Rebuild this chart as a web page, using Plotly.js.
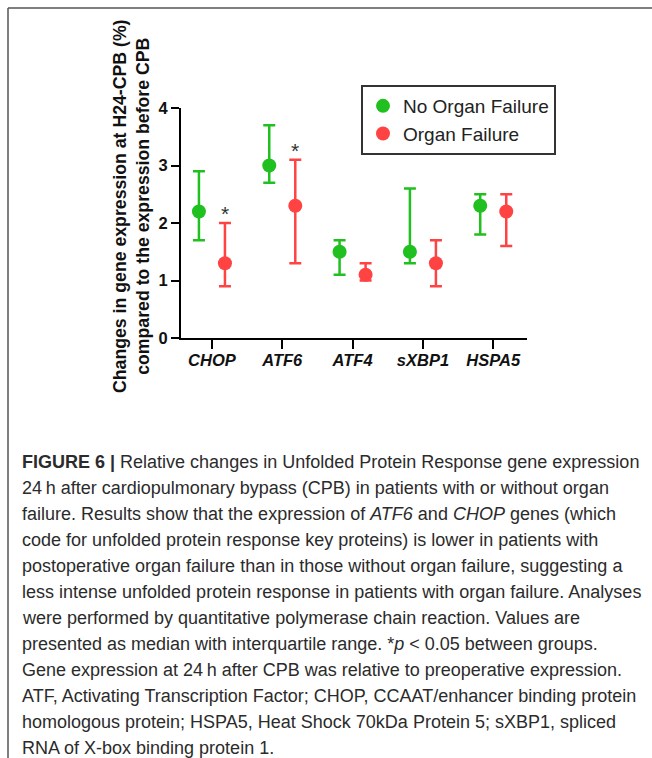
<!DOCTYPE html>
<html>
<head>
<meta charset="utf-8">
<script src="https://cdn.plot.ly/plotly-3.0.1.min.js"></script>
<style>
html,body{margin:0;padding:0;background:#fff;}
#chart{width:652px;height:758px;}
</style>
</head>
<body>
<div id="chart"></div>
<script>
// ---- data ----
const genes = ['CHOP', 'ATF6', 'ATF4', 'sXBP1', 'HSPA5'];
const noOFMedian = [2.2, 3.0, 1.5, 1.5, 2.3];
const noOFLow    = [1.7, 2.7, 1.1, 1.3, 1.8];
const noOFHigh   = [2.9, 3.7, 1.7, 2.6, 2.5];
const ofMedian   = [1.3, 2.3, 1.1, 1.3, 2.2];
const ofLow      = [0.9, 1.3, 1.0, 0.9, 1.6];
const ofHigh     = [2.0, 3.1, 1.3, 1.7, 2.5];
const significant = ['CHOP', 'ATF6'];
const yTicks = [0, 1, 2, 3, 4];
const seriesNames = ['No Organ Failure', 'Organ Failure'];
const yTitle = 'Changes in gene expression at H24-CPB (%)<br>compared to the expression before CPB';

const captionLines = [
  '<b>FIGURE 6 |</b> Relative changes in Unfolded Protein Response gene expression',
  '24\u2009h after cardiopulmonary bypass (CPB) in patients with or without organ',
  'failure. Results show that the expression of <i>ATF6</i> and <i>CHOP</i> genes (which',
  'code for unfolded protein response key proteins) is lower in patients with',
  'postoperative organ failure than in those without organ failure, suggesting a',
  'less intense unfolded protein response in patients with organ failure. Analyses',
  'were performed by quantitative polymerase chain reaction. Values are',
  'presented as median with interquartile range. *<i>p</i> &lt; 0.05 between groups.',
  'Gene expression at 24\u2009h after CPB was relative to preoperative expression.',
  'ATF, Activating Transcription Factor; CHOP, CCAAT/enhancer binding protein',
  'homologous protein; HSPA5, Heat Shock 70kDa Protein 5; sXBP1, spliced',
  'RNA of X-box binding protein 1.'
];

// ---- layout geometry (pixels) ----
const W = 652, H = 758;
const M = {l: 181, r: 125, t: 108, b: 420};
const pw = W - M.l - M.r, ph = H - M.t - M.b;
const px = x => (x - M.l) / pw;
const py = y => (H - M.b - y) / ph;

const FONT = 'Liberation Sans, Arial, sans-serif';
const GREEN = '#1fc01f', RED = '#ff4343';
const diff = (a, b) => a.map((v, i) => v - b[i]);

const traces = [
  {
    type: 'scatter', mode: 'markers', name: seriesNames[0],
    x: genes, y: noOFMedian, legendgroup: 'a',
    marker: {color: GREEN, size: 14},
    error_y: {type: 'data', symmetric: false,
      array: diff(noOFHigh, noOFMedian), arrayminus: diff(noOFMedian, noOFLow),
      color: GREEN, thickness: 2.5, width: 6},
    cliponaxis: false
  },
  {
    type: 'scatter', mode: 'markers', name: seriesNames[1],
    x: genes, y: ofMedian, legendgroup: 'b',
    marker: {color: RED, size: 14},
    error_y: {type: 'data', symmetric: false,
      array: diff(ofHigh, ofMedian), arrayminus: diff(ofMedian, ofLow),
      color: RED, thickness: 2.5, width: 6},
    cliponaxis: false
  }
];

const annotations = [];
significant.forEach(g => {
  const i = genes.indexOf(g);
  annotations.push({
    x: g, y: ofHigh[i], xref: 'x', yref: 'y',
    text: '*', showarrow: false, xshift: 13, yshift: -4,
    xanchor: 'center', yanchor: 'bottom',
    font: {family: FONT, size: 21, color: '#333'}
  });
});
// y-axis title (two lines, rotated)
annotations.push({
  x: px(131), y: py(206), xref: 'paper', yref: 'paper',
  text: yTitle, showarrow: false, textangle: -90,
  xanchor: 'center', yanchor: 'middle', align: 'center',
  font: {family: FONT, size: 17.7, color: '#111', weight: 'bold'}
});
captionLines.forEach((t, k) => {
  annotations.push({
    x: px(20), y: py(462 + k * 26.0), xref: 'paper', yref: 'paper',
    text: t, showarrow: false, xanchor: 'left', yanchor: 'middle',
    font: {family: FONT, size: 18, color: '#2b2b2b'}
  });
});

const layout = {
  width: W, height: H,
  margin: M,
  paper_bgcolor: '#fff', plot_bgcolor: '#fff',
  showlegend: true,
  scattermode: 'group', scattergap: 0.26,
  legend: {
    x: px(361), y: py(85), xanchor: 'left', yanchor: 'top',
    bgcolor: '#fff', bordercolor: '#333', borderwidth: 2,
    font: {family: FONT, size: 19, color: '#222'},
    traceorder: 'grouped', tracegroupgap: 0
  },
  xaxis: {
    type: 'category', range: [-0.44, 4.48],
    showline: true, linecolor: '#000', linewidth: 2,
    ticks: 'outside', ticklen: 9, tickwidth: 2, tickcolor: '#000',
    ticklabelstandoff: -3,
    showgrid: false, zeroline: false,
    tickfont: {family: FONT, size: 16.5, color: '#111', weight: 'bold', style: 'italic'}
  },
  yaxis: {
    range: [0, 4], tickvals: yTicks,
    showline: true, linecolor: '#000', linewidth: 2,
    ticks: 'outside', ticklen: 8, tickwidth: 2, tickcolor: '#000',
    showgrid: false, zeroline: false,
    tickfont: {family: FONT, size: 16.5, color: '#111', weight: 'bold'}
  },
  annotations: annotations,
  shapes: [
    {type: 'line', xref: 'paper', yref: 'paper', x0: px(8), x1: px(652), y0: py(8), y1: py(8),
     line: {color: '#555', width: 1.5}},
    {type: 'line', xref: 'paper', yref: 'paper', x0: px(8), x1: px(8), y0: py(8), y1: py(758),
     line: {color: '#555', width: 1.5}}
  ]
};

Plotly.newPlot('chart', traces, layout, {displayModeBar: false, responsive: false});
</script>
</body>
</html>
